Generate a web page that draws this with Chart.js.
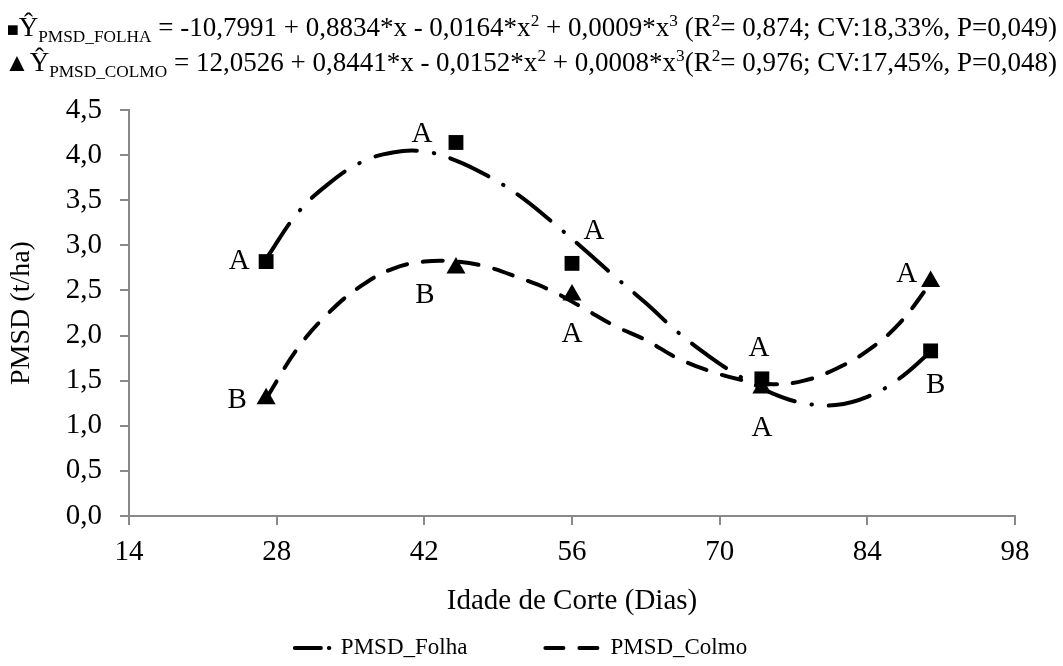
<!DOCTYPE html>
<html>
<head>
<meta charset="utf-8">
<script src="https://cdn.jsdelivr.net/npm/chart.js@4.4.1/dist/chart.umd.min.js"></script>
<style>
  html, body { margin: 0; padding: 0; background: #fff; }
  #wrap { position: relative; width: 1063px; height: 666px; }
  #eq {
    position: absolute; right: 6px; top: 11px;
    font-family: 'Liberation Serif', 'Times New Roman', serif;
    font-size: 27px; line-height: 33px; text-align: right;
    white-space: nowrap; color: #000;
  }
  #eq sub, #eq sup { font-size: 0.64em; line-height: 0; }
  #eq .sq { font-size: 0.74em; }
  #eq .tri { font-size: 0.95em; }
</style>
</head>
<body>
<div id="wrap">
  <canvas id="c" width="1063" height="666"></canvas>
  <div id="eq">
    <div><span class="sq">■</span>Ŷ<sub>PMSD_FOLHA</sub> = -10,7991 + 0,8834*x - 0,0164*x<sup>2</sup> + 0,0009*x<sup>3</sup> (R<sup>2</sup>= 0,874; CV:18,33%, P=0,049)</div>
    <div><span class="tri">▲</span>Ŷ<sub>PMSD_COLMO</sub> = 12,0526 + 0,8441*x - 0,0152*x<sup>2</sup> + 0,0008*x<sup>3</sup>(R<sup>2</sup>= 0,976; CV:17,45%, P=0,048)</div>
  </div>
</div>
<script>
// Cutting ages (days) and observed dry matter yields (t/ha)
const days = [27, 45, 56, 74, 90];
const folhaObs = [2.82, 4.14, 2.80, 1.52, 1.83];
const colmoObs = [1.30, 2.75, 2.45, 1.42, 2.60];

// Tukey letters printed beside each observation
const folhaLetters = ['A', 'A', 'A', 'A', 'B'];
const colmoLetters = ['B', 'B', 'A', 'A', 'A'];

// Fitted regression curves, sampled along the cutting-age range
const fitDays  = [27, 30, 33, 36, 39, 42, 45, 48, 51, 54, 57, 60, 63, 66, 69, 72, 75, 78, 81, 84, 87, 90];
const folhaFit = [2.85, 3.36, 3.69, 3.92, 4.03, 4.04, 3.94, 3.77, 3.55, 3.27, 2.97, 2.66, 2.36, 2.04, 1.77, 1.54, 1.36, 1.25, 1.23, 1.32, 1.52, 1.82];
const colmoFit = [1.30, 1.86, 2.26, 2.55, 2.74, 2.82, 2.82, 2.76, 2.64, 2.50, 2.31, 2.11, 1.95, 1.75, 1.61, 1.51, 1.46, 1.50, 1.63, 1.83, 2.13, 2.58];

// Series names
const seriesNames = ['PMSD_Folha', 'PMSD_Colmo'];

// Axis ranges
const xMin = 14, xMax = 98, xStep = 14;
const yMin = 0, yMax = 4.5, yStep = 0.5;

const FONT = "'Liberation Serif', 'Times New Roman', serif";
const AXIS_GREY = '#898989';

// Where each letter sits relative to its marker (px)
const folhaLetterOffsets = [[-27, 0], [-34, -8], [22, -32], [-3, -30], [5, 34]];
const colmoLetterOffsets = [[-29, 2], [-31, 28], [0, 39], [0, 41], [-24, -7]];

const pts = (xs, ys) => xs.map((x, i) => ({ x: x, y: ys[i] }));

const letterPlugin = {
  id: 'letters',
  afterDatasetsDraw(chart) {
    const ctx = chart.ctx, sx = chart.scales.x, sy = chart.scales.y;
    ctx.save();
    ctx.font = '29px ' + FONT;
    ctx.fillStyle = '#000';
    ctx.textAlign = 'center';
    ctx.textBaseline = 'middle';
    [[folhaObs, folhaLetters, folhaLetterOffsets], [colmoObs, colmoLetters, colmoLetterOffsets]]
      .forEach(([vals, letters, offs]) => {
        vals.forEach((v, i) => {
          ctx.fillText(letters[i],
            sx.getPixelForValue(days[i]) + offs[i][0],
            sy.getPixelForValue(v) + offs[i][1]);
        });
      });
    ctx.restore();
  }
};

// Legend drawn below the axis title: a dashed line sample then the series name
const legendSample = [
  { dash: [26, 8, 0.5, 30], len: 35 },
  { dash: [18, 16], len: 54 }
];
const legendPlugin = {
  id: 'bottomLegend',
  afterDraw(chart) {
    const ctx = chart.ctx;
    const y = 648, gapText = 11, gapItem = 78, centre = 521;
    ctx.save();
    ctx.font = '23px ' + FONT;
    const widths = seriesNames.map((n) => ctx.measureText(n).width);
    const total = legendSample[0].len + gapText + widths[0] + gapItem + legendSample[1].len + gapText + widths[1];
    let x = centre - total / 2;
    seriesNames.forEach((name, i) => {
      const ds = chart.data.datasets[i];
      ctx.beginPath();
      ctx.setLineDash(legendSample[i].dash);
      ctx.lineCap = 'round';
      ctx.lineWidth = ds.borderWidth;
      ctx.strokeStyle = ds.borderColor;
      ctx.moveTo(x, y);
      ctx.lineTo(x + legendSample[i].len, y);
      ctx.stroke();
      x += legendSample[i].len + gapText;
      ctx.setLineDash([]);
      ctx.fillStyle = '#000';
      ctx.textAlign = 'left';
      ctx.textBaseline = 'middle';
      ctx.fillText(name, x, y);
      x += widths[i] + gapItem;
    });
    ctx.restore();
  }
};

new Chart(document.getElementById('c'), {
  type: 'line',
  data: {
    datasets: [
      {
        label: seriesNames[0], data: pts(fitDays, folhaFit),
        borderColor: '#000', borderWidth: 4, borderDash: [42, 17, 0.5, 17],
        borderCapStyle: 'round', pointRadius: 0, tension: 0.4, fill: false, order: 2
      },
      {
        label: seriesNames[1], data: pts(fitDays, colmoFit),
        borderColor: '#000', borderWidth: 4, borderDash: [20, 16],
        borderCapStyle: 'round', pointRadius: 0, tension: 0.4, fill: false, order: 2
      },
      {
        label: 'Folha (obs.)', data: pts(days, folhaObs), showLine: false,
        pointStyle: 'rect', pointRadius: 10.5, pointBackgroundColor: '#000',
        pointBorderWidth: 0, order: 0
      },
      {
        label: 'Colmo (obs.)', data: pts(days, colmoObs), showLine: false,
        pointStyle: 'triangle', pointRadius: 11, pointBackgroundColor: '#000',
        pointBorderWidth: 0, order: 0
      }
    ]
  },
  options: {
    responsive: false,
    animation: false,
    devicePixelRatio: 1,
    layout: { padding: { top: 110, right: 48, left: 0, bottom: 47 } },
    plugins: {
      tooltip: { enabled: false },
      legend: { display: false }
    },
    scales: {
      x: {
        type: 'linear', min: xMin, max: xMax,
        afterFit(scale) { scale.height = 103; },
        ticks: { stepSize: xStep, color: '#000', font: { family: FONT, size: 29 }, padding: 10, maxRotation: 0 },
        grid: { display: true, drawOnChartArea: false, drawTicks: true, tickLength: 9, color: AXIS_GREY, lineWidth: 2 },
        border: { display: true, color: AXIS_GREY, width: 2 },
        title: { display: true, text: 'Idade de Corte (Dias)', color: '#000', font: { family: FONT, size: 29 }, padding: { top: 10, bottom: 0 } }
      },
      y: {
        type: 'linear', min: yMin, max: yMax,
        afterFit(scale) { scale.width = 129; },
        ticks: {
          stepSize: yStep, color: '#000', font: { family: FONT, size: 29 }, padding: 18,
          callback: (v) => v.toFixed(1).replace('.', ',')
        },
        grid: { display: true, drawOnChartArea: false, drawTicks: true, tickLength: 9, color: AXIS_GREY, lineWidth: 2 },
        border: { display: true, color: AXIS_GREY, width: 2 },
        title: { display: true, text: 'PMSD (t/ha)', color: '#000', font: { family: FONT, size: 28 }, padding: { top: 5, bottom: 0 } }
      }
    }
  },
  plugins: [letterPlugin, legendPlugin]
});
</script>
</body>
</html>
